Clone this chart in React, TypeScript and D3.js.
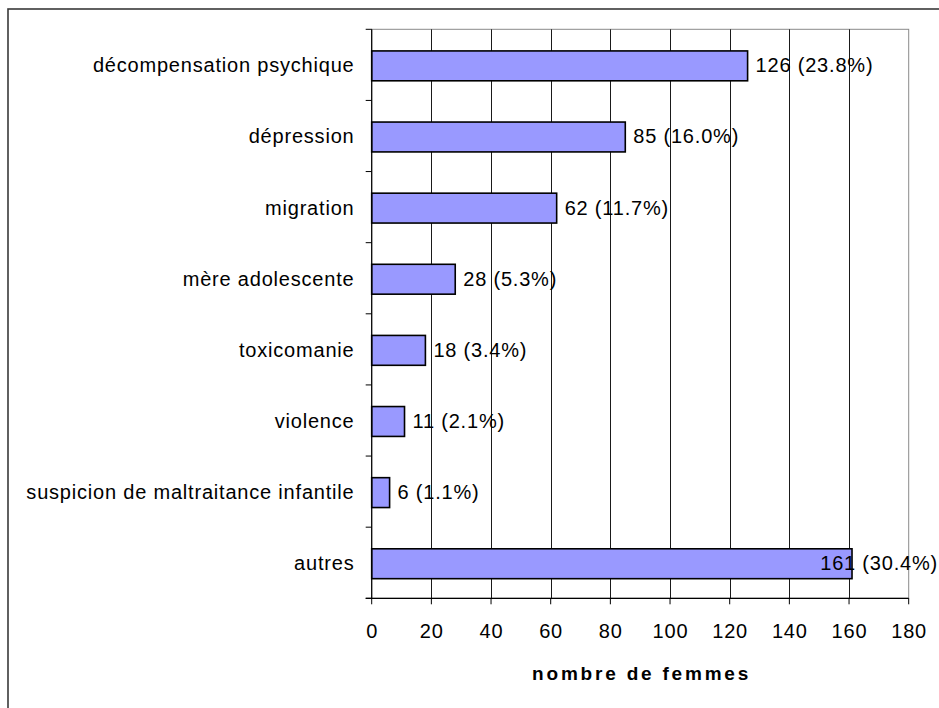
import React, { useEffect, useRef } from "react";
import * as d3 from "d3";

const categories = [
  "décompensation psychique",
  "dépression",
  "migration",
  "mère adolescente",
  "toxicomanie",
  "violence",
  "suspicion de maltraitance infantile",
  "autres",
];
const counts = [126, 85, 62, 28, 18, 11, 6, 161];
const percents = ["23.8", "16.0", "11.7", "5.3", "3.4", "2.1", "1.1", "30.4"];
const xTicks = [0, 20, 40, 60, 80, 100, 120, 140, 160, 180];
const xTitle = "nombre de femmes";

const W = 939;
const H = 708;
const plot = { left: 371.7, right: 908.7, top: 29.3, bottom: 598.3 };
const FONT = "'Liberation Sans', Arial, sans-serif";
const FS = 20;
const LS = 0.8;

export default function App() {
  const ref = useRef<SVGSVGElement | null>(null);

  useEffect(() => {
    const svg = d3.select(ref.current);
    svg.selectAll("*").remove();

    const x = d3.scaleLinear().domain([0, 180]).range([plot.left, plot.right]);
    const y = d3
      .scaleBand<string>()
      .domain(categories)
      .range([plot.top, plot.bottom])
      .paddingInner(0.58)
      .paddingOuter(0.29);
    const band = d3.scaleBand<string>().domain(categories).range([plot.top, plot.bottom]);

    // chart frame (runs past the visible window on the right and bottom)
    svg
      .append("rect")
      .attr("x", 8)
      .attr("y", 9)
      .attr("width", W + 20)
      .attr("height", H + 20)
      .attr("fill", "#fff")
      .attr("stroke", "#3a3a3a")
      .attr("stroke-width", 1.6);

    // plot area border
    svg
      .append("rect")
      .attr("x", plot.left)
      .attr("y", plot.top)
      .attr("width", plot.right - plot.left)
      .attr("height", plot.bottom - plot.top)
      .attr("fill", "#fff")
      .attr("stroke", "#8a8a8a")
      .attr("stroke-width", 1);

    // vertical gridlines
    svg
      .append("g")
      .selectAll("line")
      .data(xTicks.filter((t) => t > 0 && t < 180))
      .join("line")
      .attr("x1", (d) => Math.round(x(d)) + 0.5)
      .attr("x2", (d) => Math.round(x(d)) + 0.5)
      .attr("y1", plot.top)
      .attr("y2", plot.bottom)
      .attr("stroke", "#1a1a1a")
      .attr("stroke-width", 1);

    // bars
    svg
      .append("g")
      .selectAll("rect")
      .data(categories)
      .join("rect")
      .attr("x", x(0))
      .attr("y", (d) => (y(d) as number) + 1)
      .attr("width", (_, i) => x(counts[i]) - x(0))
      .attr("height", y.bandwidth())
      .attr("fill", "#9999FF")
      .attr("stroke", "#000")
      .attr("stroke-width", 1.6);

    // y axis line and ticks
    svg
      .append("line")
      .attr("x1", plot.left)
      .attr("x2", plot.left)
      .attr("y1", plot.top)
      .attr("y2", plot.bottom)
      .attr("stroke", "#000")
      .attr("stroke-width", 1.2);
    const yBoundaries = categories.map((c) => band(c) as number).concat([plot.bottom]);
    svg
      .append("g")
      .selectAll("line")
      .data(yBoundaries)
      .join("line")
      .attr("x1", plot.left - 6)
      .attr("x2", plot.left)
      .attr("y1", (d) => d)
      .attr("y2", (d) => d)
      .attr("stroke", "#000")
      .attr("stroke-width", 1);

    // x axis line and ticks
    svg
      .append("line")
      .attr("x1", plot.left - 6)
      .attr("x2", plot.right)
      .attr("y1", plot.bottom)
      .attr("y2", plot.bottom)
      .attr("stroke", "#000")
      .attr("stroke-width", 1.2);
    svg
      .append("g")
      .selectAll("line")
      .data(xTicks)
      .join("line")
      .attr("x1", (d) => x(d))
      .attr("x2", (d) => x(d))
      .attr("y1", plot.bottom)
      .attr("y2", plot.bottom + 6)
      .attr("stroke", "#000")
      .attr("stroke-width", 1);

    const txt = (g: d3.Selection<any, any, any, any>) =>
      g
        .attr("font-family", FONT)
        .attr("font-size", FS)
        .attr("letter-spacing", LS)
        .attr("fill", "#000");

    // x tick labels
    svg
      .append("g")
      .call(txt)
      .selectAll("text")
      .data(xTicks)
      .join("text")
      .attr("x", (d) => x(d) + LS / 2)
      .attr("y", 638)
      .attr("text-anchor", "middle")
      .text((d) => d);

    // category labels
    svg
      .append("g")
      .call(txt)
      .selectAll("text")
      .data(categories)
      .join("text")
      .attr("x", plot.left - 18 + LS)
      .attr("y", (d) => (y(d) as number) + 1 + y.bandwidth() / 2)
      .attr("dy", "0.32em")
      .attr("text-anchor", "end")
      .text((d) => d);

    // value labels, kept inside the chart frame
    const labels = svg
      .append("g")
      .call(txt)
      .selectAll("text")
      .data(categories)
      .join("text")
      .attr("x", (_, i) => x(counts[i]) + 8)
      .attr("y", (d) => (y(d) as number) + 1 + y.bandwidth() / 2)
      .attr("dy", "0.32em")
      .text((_, i) => `${counts[i]} (${percents[i]}%)`);
    const limit = 938;
    labels.each(function () {
      const el = this as SVGTextElement;
      const w = el.getComputedTextLength();
      const x0 = +el.getAttribute("x")!;
      if (x0 + w > limit) el.setAttribute("x", String(limit - w));
    });

    // x axis title
    svg
      .append("text")
      .attr("x", (plot.left + plot.right) / 2 + 1.4)
      .attr("y", 680)
      .attr("text-anchor", "middle")
      .attr("font-family", FONT)
      .attr("font-size", 19)
      .attr("font-weight", "bold")
      .attr("letter-spacing", 2.8)
      .text(xTitle);
  }, []);

  return (
    <svg
      ref={ref}
      width={W}
      height={H}
      style={{ position: "absolute", left: 0, top: 0, background: "#fff" }}
    />
  );
}
